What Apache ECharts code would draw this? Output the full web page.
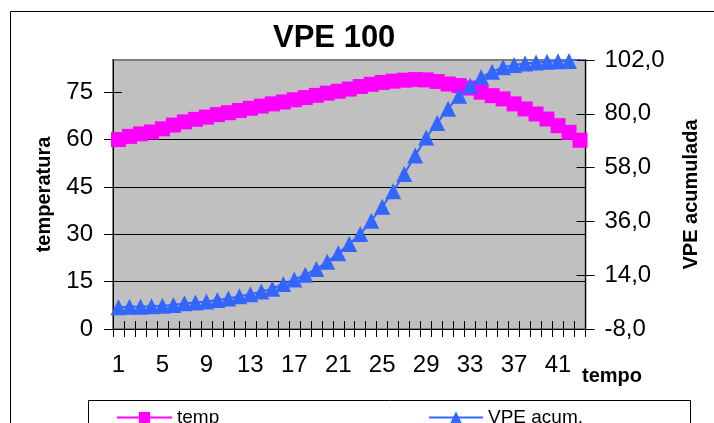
<!DOCTYPE html>
<html>
<head>
<meta charset="utf-8">
<script src="https://cdn.jsdelivr.net/npm/echarts@6/dist/echarts.min.js"></script>
<style>html,body{margin:0;padding:0;background:#fff}#c{width:714px;height:423px}</style>
</head>
<body>
<div id="c"></div>
<script>
const categories = ['1','2','3','4','5','6','7','8','9','10','11','12','13','14','15','16','17','18','19','20','21','22','23','24','25','26','27','28','29','30','31','32','33','34','35','36','37','38','39','40','41','42','43'];
const tempValues = [60.0,61.0,61.8,62.4,63.4,64.6,65.6,66.4,67.1,67.9,68.5,69.2,69.9,70.6,71.3,71.9,72.6,73.3,74.0,74.7,75.3,76.0,76.8,77.5,78.1,78.5,78.8,79.0,78.9,78.4,77.6,77.1,76.3,75.0,73.9,72.9,71.3,69.7,68.1,66.5,64.4,62.3,59.8];
const vpeValues = [0.9,1.1,1.1,1.3,1.5,1.8,2.5,2.8,3.2,3.9,4.5,5.4,6.2,7.3,8.5,10.4,12.2,14.2,16.5,19.5,23.0,26.8,30.8,36.3,42.0,48.3,55.4,62.9,70.3,76.2,82.1,87.4,91.5,94.9,97.2,99.0,100.0,100.6,101.0,101.3,101.5,101.6,102.5];
const leftTicks = [0,15,30,45,60,75];
const rightTicks = [-8,14,36,58,80,102];

const FONT = "'Liberation Sans', Arial, sans-serif";
const chart = echarts.init(document.getElementById('c'), null, {renderer:'canvas'});

const option = {
  backgroundColor: '#ffffff',
  animation: false,
  title: {
    text: 'VPE 100', left: 273, top: 23, padding: 0,
    textStyle: {fontSize: 31, fontWeight: 'bold', color: '#000', fontFamily: FONT}
  },
  legend: [
    {data: ['temp'], left: 116, top: 408, padding: 0, itemWidth: 55, itemHeight: 14,
     textStyle: {fontSize: 19, color: '#000', fontFamily: FONT}, selectedMode: false},
    {data: ['VPE acum.'], left: 428, top: 408, padding: 0, itemWidth: 54, itemHeight: 15,
     textStyle: {fontSize: 19, color: '#000', fontFamily: FONT}, selectedMode: false}
  ],
  grid: {left: 113, top: 60, width: 472.5, height: 269, show: true,
         backgroundColor: '#C0C0C0', borderColor: '#808080', borderWidth: 2},
  xAxis: [
    {type: 'category', data: categories, boundaryGap: true, position: 'bottom',
     axisLine: {show: true, onZero: false, lineStyle: {color: '#000', width: 1}},
     axisTick: {show: true, interval: 0, length: 8, lineStyle: {color: '#000', width: 1}},
     axisLabel: {interval: 3, fontSize: 24, color: '#000', fontFamily: FONT, margin: 24},
     splitLine: {show: false}},
    {type: 'category', data: categories, boundaryGap: true, position: 'bottom',
     axisLine: {show: false, onZero: false},
     axisTick: {show: true, inside: true, interval: 0, length: 8, lineStyle: {color: '#000', width: 1}},
     axisLabel: {show: false}, splitLine: {show: false}}
  ],
  yAxis: [
    {type: 'value', position: 'left', min: 0, max: 85.2, interval: 15,
     name: 'temperatura', nameLocation: 'middle', nameGap: 59, nameRotate: 90,
     nameTextStyle: {fontSize: 20, fontWeight: 'bold', color: '#000', fontFamily: FONT},
     axisLine: {show: true, onZero: false, lineStyle: {color: '#000', width: 1}},
     axisTick: {show: true, length: 9, customValues: leftTicks, lineStyle: {color: '#000'}},
     axisLabel: {customValues: leftTicks, fontSize: 24, color: '#000', fontFamily: FONT, margin: 20},
     splitLine: {show: true, showMinLine: false, showMaxLine: false, lineStyle: {color: '#000', width: 1}}},
    {type: 'value', position: 'right', min: -8, max: 102,
     name: 'VPE acumulada', nameLocation: 'middle', nameGap: 96, nameRotate: 90,
     nameTextStyle: {fontSize: 20, fontWeight: 'bold', color: '#000', fontFamily: FONT},
     axisLine: {show: true, onZero: false, lineStyle: {color: '#000', width: 1}},
     axisTick: {show: true, length: 9, customValues: rightTicks, lineStyle: {color: '#000'}},
     axisLabel: {customValues: rightTicks, fontSize: 24, color: '#000', fontFamily: FONT, margin: 19,
                 formatter: v => v.toFixed(1).replace('.', ',')},
     splitLine: {show: false}},
    {type: 'value', position: 'left', min: 0, max: 85.2,
     axisLine: {show: false, onZero: false},
     axisTick: {show: true, inside: true, length: 9, customValues: leftTicks, lineStyle: {color: '#000'}},
     axisLabel: {show: false}, splitLine: {show: false}},
    {type: 'value', position: 'right', min: -8, max: 102,
     axisLine: {show: false, onZero: false},
     axisTick: {show: true, inside: true, length: 9, customValues: rightTicks, lineStyle: {color: '#000'}},
     axisLabel: {show: false}, splitLine: {show: false}}
  ],
  graphic: [
    {type: 'rect', shape: {x: 10.5, y: 11.5, width: 720, height: 430}, silent: true,
     style: {fill: 'none', stroke: '#000', lineWidth: 1}},
    {type: 'rect', shape: {x: 88.5, y: 400.5, width: 602, height: 40}, silent: true,
     style: {fill: 'none', stroke: '#000', lineWidth: 1}},
    {type: 'text', left: 582, top: 366, silent: true,
     style: {text: 'tempo', font: "bold 20px 'Liberation Sans', Arial, sans-serif", fill: '#000'}}
  ],
  series: [
    {name: 'temp', type: 'line', xAxisIndex: 0, yAxisIndex: 0, data: tempValues,
     symbol: 'rect', symbolSize: 15, showAllSymbol: true, clip: true,
     lineStyle: {color: '#FF00FF', width: 2}, itemStyle: {color: '#FF00FF'}},
    {name: 'VPE acum.', type: 'line', xAxisIndex: 0, yAxisIndex: 1, data: vpeValues,
     symbol: 'triangle', symbolSize: 16, showAllSymbol: true, clip: true,
     lineStyle: {color: '#3366FF', width: 2}, itemStyle: {color: '#3366FF'}}
  ]
};
chart.setOption(option);
</script>
</body>
</html>
